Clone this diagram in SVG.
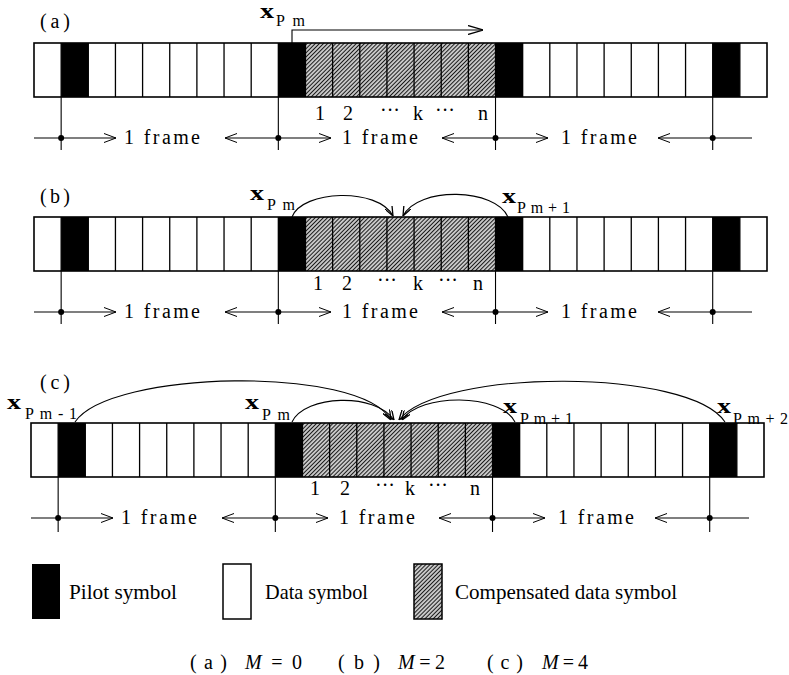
<svg xmlns="http://www.w3.org/2000/svg" width="789" height="675" viewBox="0 0 789 675">
<style>
.t{font-family:"Liberation Serif","Times New Roman",serif;fill:#000}
.ln{fill:none;stroke:#000;stroke-width:1.1}
.div{fill:none;stroke:#000;stroke-width:1.3}
.out{fill:none;stroke:#000;stroke-width:1.6}
.pilot{fill:#000}
.fr{font-size:20px}
.num{font-size:20px;text-anchor:middle}
.lab{font-size:20px}
.xx{font-size:20px;font-weight:bold}
.sub{font-size:16px}
.leg{font-size:21px}
.cap{font-size:20px}
</style>
<defs>
<pattern id="hatch" width="2.9" height="2.9" patternUnits="userSpaceOnUse" patternTransform="rotate(45)">
<rect width="2.9" height="2.9" fill="#d4d4d4"/>
<line x1="1.45" y1="0" x2="1.45" y2="2.9" stroke="#1a1a1a" stroke-width="1.1"/>
</pattern>
<marker id="chev" viewBox="0 0 12 10" refX="12" refY="5" markerWidth="12" markerHeight="10" markerUnits="userSpaceOnUse" orient="auto"><path d="M0,0.5L12,5L0,9.5" fill="none" stroke="#000" stroke-width="1"/></marker>
<marker id="head" viewBox="0 0 15 10" refX="15" refY="5" markerWidth="15" markerHeight="10" markerUnits="userSpaceOnUse" orient="auto"><path d="M0,0.5L15,5L0,9.5" fill="none" stroke="#000" stroke-width="1.3"/></marker>
<marker id="arc" viewBox="0 0 10 8" refX="10" refY="4" markerWidth="10" markerHeight="8" markerUnits="userSpaceOnUse" orient="auto"><path d="M0,0L10,4L0,8" fill="none" stroke="#000" stroke-width="1.3"/></marker>
</defs>
<rect width="789" height="675" fill="#fff"/>

<!-- Row (a) -->
<g id="row-a">
<rect x="34" y="43" width="733" height="54" fill="#fff"/>
<rect x="305.48" y="43" width="190.04" height="54" fill="url(#hatch)"/>
<rect class="pilot" x="61.15" y="43" width="27.15" height="54"/>
<rect class="pilot" x="278.33" y="43" width="27.15" height="54"/>
<rect class="pilot" x="495.52" y="43" width="27.15" height="54"/>
<rect class="pilot" x="712.7" y="43" width="27.15" height="54"/>
<path class="div" d="M61.15,43v54M88.3,43v54M115.44,43v54M142.59,43v54M169.74,43v54M196.89,43v54M224.04,43v54M251.19,43v54M278.33,43v54M305.48,43v54M332.63,43v54M359.78,43v54M386.93,43v54M414.07,43v54M441.22,43v54M468.37,43v54M495.52,43v54M522.67,43v54M549.81,43v54M576.96,43v54M604.11,43v54M631.26,43v54M658.41,43v54M685.56,43v54M712.7,43v54M739.85,43v54"/>
<rect class="out" x="34" y="43" width="733" height="54"/>
<path class="ln" d="M61.15,97V150M278.33,97V150M495.52,97V150M712.7,97V150M34,138H61.15M712.7,138H752"/>
<path class="ln" marker-end="url(#chev)" d="M61.15,138H116"/>
<path class="ln" marker-end="url(#chev)" d="M278.33,138H225"/>
<path class="ln" marker-end="url(#chev)" d="M278.33,138H331"/>
<path class="ln" marker-end="url(#chev)" d="M495.52,138H442"/>
<path class="ln" marker-end="url(#chev)" d="M495.52,138H548"/>
<path class="ln" marker-end="url(#chev)" d="M712.7,138H658"/>
<circle cx="61.15" cy="138" r="3"/><circle cx="278.33" cy="138" r="3"/><circle cx="495.52" cy="138" r="3"/><circle cx="712.7" cy="138" r="3"/>
<text class="t fr" x="162" y="144" text-anchor="middle" textLength="76">1 frame</text>
<text class="t fr" x="380" y="144" text-anchor="middle" textLength="76">1 frame</text>
<text class="t fr" x="599" y="144" text-anchor="middle" textLength="76">1 frame</text>
</g>
<g id="labels-a">
<text class="t lab" x="40" y="28" textLength="30">(a)</text>
<text class="t xx" x="260" y="18" textLength="14" lengthAdjust="spacingAndGlyphs">x</text>
<text class="t sub" x="276" y="26" textLength="29">Pm</text>
<text class="t num" x="320" y="120">1</text>
<text class="t num" x="348" y="120">2</text>
<text class="t num" x="390" y="117">···</text>
<text class="t num" x="418" y="120">k</text>
<text class="t num" x="445" y="117">···</text>
<text class="t num" x="483" y="120">n</text>
</g>

<!-- Row (b) -->
<g id="row-b" transform="translate(0,174)">
<rect x="34" y="43" width="733" height="54" fill="#fff"/>
<rect x="305.48" y="43" width="190.04" height="54" fill="url(#hatch)"/>
<rect class="pilot" x="61.15" y="43" width="27.15" height="54"/>
<rect class="pilot" x="278.33" y="43" width="27.15" height="54"/>
<rect class="pilot" x="495.52" y="43" width="27.15" height="54"/>
<rect class="pilot" x="712.7" y="43" width="27.15" height="54"/>
<path class="div" d="M61.15,43v54M88.3,43v54M115.44,43v54M142.59,43v54M169.74,43v54M196.89,43v54M224.04,43v54M251.19,43v54M278.33,43v54M305.48,43v54M332.63,43v54M359.78,43v54M386.93,43v54M414.07,43v54M441.22,43v54M468.37,43v54M495.52,43v54M522.67,43v54M549.81,43v54M576.96,43v54M604.11,43v54M631.26,43v54M658.41,43v54M685.56,43v54M712.7,43v54M739.85,43v54"/>
<rect class="out" x="34" y="43" width="733" height="54"/>
<path class="ln" d="M61.15,97V150M278.33,97V150M495.52,97V150M712.7,97V150M34,138H61.15M712.7,138H752"/>
<path class="ln" marker-end="url(#chev)" d="M61.15,138H116"/>
<path class="ln" marker-end="url(#chev)" d="M278.33,138H225"/>
<path class="ln" marker-end="url(#chev)" d="M278.33,138H331"/>
<path class="ln" marker-end="url(#chev)" d="M495.52,138H442"/>
<path class="ln" marker-end="url(#chev)" d="M495.52,138H548"/>
<path class="ln" marker-end="url(#chev)" d="M712.7,138H658"/>
<circle cx="61.15" cy="138" r="3"/><circle cx="278.33" cy="138" r="3"/><circle cx="495.52" cy="138" r="3"/><circle cx="712.7" cy="138" r="3"/>
<text class="t fr" x="162" y="144" text-anchor="middle" textLength="76">1 frame</text>
<text class="t fr" x="380" y="144" text-anchor="middle" textLength="76">1 frame</text>
<text class="t fr" x="599" y="144" text-anchor="middle" textLength="76">1 frame</text>
</g>
<g id="labels-b">
<text class="t lab" x="40" y="203" textLength="30">(b)</text>
<text class="t xx" x="250" y="200" textLength="14" lengthAdjust="spacingAndGlyphs">x</text>
<text class="t sub" x="267" y="210" textLength="28">Pm</text>
<text class="t xx" x="502" y="203" textLength="14" lengthAdjust="spacingAndGlyphs">x</text>
<text class="t sub" x="517" y="213" textLength="53">Pm+1</text>
<text class="t num" x="318" y="290">1</text>
<text class="t num" x="347" y="290">2</text>
<text class="t num" x="387" y="287">···</text>
<text class="t num" x="418" y="290">k</text>
<text class="t num" x="448" y="287">···</text>
<text class="t num" x="478" y="290">n</text>
</g>

<!-- Row (c) -->
<g id="row-c" transform="translate(-3,380)">
<rect x="34" y="43" width="733" height="54" fill="#fff"/>
<rect x="305.48" y="43" width="190.04" height="54" fill="url(#hatch)"/>
<rect class="pilot" x="61.15" y="43" width="27.15" height="54"/>
<rect class="pilot" x="278.33" y="43" width="27.15" height="54"/>
<rect class="pilot" x="495.52" y="43" width="27.15" height="54"/>
<rect class="pilot" x="712.7" y="43" width="27.15" height="54"/>
<path class="div" d="M61.15,43v54M88.3,43v54M115.44,43v54M142.59,43v54M169.74,43v54M196.89,43v54M224.04,43v54M251.19,43v54M278.33,43v54M305.48,43v54M332.63,43v54M359.78,43v54M386.93,43v54M414.07,43v54M441.22,43v54M468.37,43v54M495.52,43v54M522.67,43v54M549.81,43v54M576.96,43v54M604.11,43v54M631.26,43v54M658.41,43v54M685.56,43v54M712.7,43v54M739.85,43v54"/>
<rect class="out" x="34" y="43" width="733" height="54"/>
<path class="ln" d="M61.15,97V152M278.33,97V152M495.52,97V152M712.7,97V152M34,138H61.15M712.7,138H752"/>
<path class="ln" marker-end="url(#chev)" d="M61.15,138H116"/>
<path class="ln" marker-end="url(#chev)" d="M278.33,138H225"/>
<path class="ln" marker-end="url(#chev)" d="M278.33,138H331"/>
<path class="ln" marker-end="url(#chev)" d="M495.52,138H442"/>
<path class="ln" marker-end="url(#chev)" d="M495.52,138H548"/>
<path class="ln" marker-end="url(#chev)" d="M712.7,138H658"/>
<circle cx="61.15" cy="138" r="3"/><circle cx="278.33" cy="138" r="3"/><circle cx="495.52" cy="138" r="3"/><circle cx="712.7" cy="138" r="3"/>
<text class="t fr" x="162" y="144" text-anchor="middle" textLength="76">1 frame</text>
<text class="t fr" x="380" y="144" text-anchor="middle" textLength="76">1 frame</text>
<text class="t fr" x="599" y="144" text-anchor="middle" textLength="76">1 frame</text>
</g>
<g id="labels-c">
<text class="t lab" x="40" y="389" textLength="30">(c)</text>
<text class="t xx" x="7" y="409" textLength="14" lengthAdjust="spacingAndGlyphs">x</text>
<text class="t sub" x="25" y="419" textLength="52">Pm-1</text>
<text class="t xx" x="245" y="409" textLength="14" lengthAdjust="spacingAndGlyphs">x</text>
<text class="t sub" x="262" y="420" textLength="28">Pm</text>
<text class="t xx" x="503" y="413" textLength="14" lengthAdjust="spacingAndGlyphs">x</text>
<text class="t sub" x="520" y="424" textLength="53">Pm+1</text>
<text class="t xx" x="717" y="413" textLength="14" lengthAdjust="spacingAndGlyphs">x</text>
<text class="t sub" x="733" y="424" textLength="55">Pm+2</text>
<text class="t num" x="315" y="495">1</text>
<text class="t num" x="345" y="495">2</text>
<text class="t num" x="385" y="492">···</text>
<text class="t num" x="410" y="495">k</text>
<text class="t num" x="438" y="492">···</text>
<text class="t num" x="475" y="495">n</text>
</g>

<!-- Connectors -->
<g id="connectors" class="ln" stroke-width="1.3">
<path d="M292,43V30H483" marker-end="url(#head)"/>
<path d="M292,217C302,190 378,187 393,216" marker-end="url(#arc)"/>
<path d="M508,217C496,188 418,186 403,216" marker-end="url(#arc)"/>
<path d="M75,422C110,370 360,365 391,420" marker-end="url(#arc)"/>
<path d="M292,422C305,395 375,392 394,420" marker-end="url(#arc)"/>
<path d="M515,422C500,393 420,393 402,420" marker-end="url(#arc)"/>
<path d="M725,422C690,368 440,368 399,420" marker-end="url(#arc)"/>
</g>

<!-- Legend -->
<g id="legend-pilot">
<rect x="32" y="564" width="28" height="55" fill="#000"/>
<text class="t leg" x="69" y="599" textLength="108" lengthAdjust="spacingAndGlyphs">Pilot symbol</text>
</g>
<g id="legend-data">
<rect x="223" y="564" width="28" height="55" fill="#fff" stroke="#000" stroke-width="1.5"/>
<text class="t leg" x="265" y="599" textLength="103" lengthAdjust="spacingAndGlyphs">Data symbol</text>
</g>
<g id="legend-comp">
<rect x="414" y="564" width="28" height="55" fill="url(#hatch)" stroke="#000" stroke-width="1.5"/>
<text class="t leg" x="455" y="599" textLength="222" lengthAdjust="spacingAndGlyphs">Compensated data symbol</text>
</g>

<!-- Caption -->
<g id="caption">
<text class="t cap" x="190" y="669" textLength="37">(a)</text>
<text class="t cap" x="245" y="669" textLength="57"><tspan font-style="italic">M</tspan>=0</text>
<text class="t cap" x="338" y="669" textLength="42">(b)</text>
<text class="t cap" x="398" y="669" textLength="47"><tspan font-style="italic">M</tspan>=2</text>
<text class="t cap" x="487" y="669" textLength="36">(c)</text>
<text class="t cap" x="542" y="669" textLength="46"><tspan font-style="italic">M</tspan>=4</text>
</g>
</svg>
